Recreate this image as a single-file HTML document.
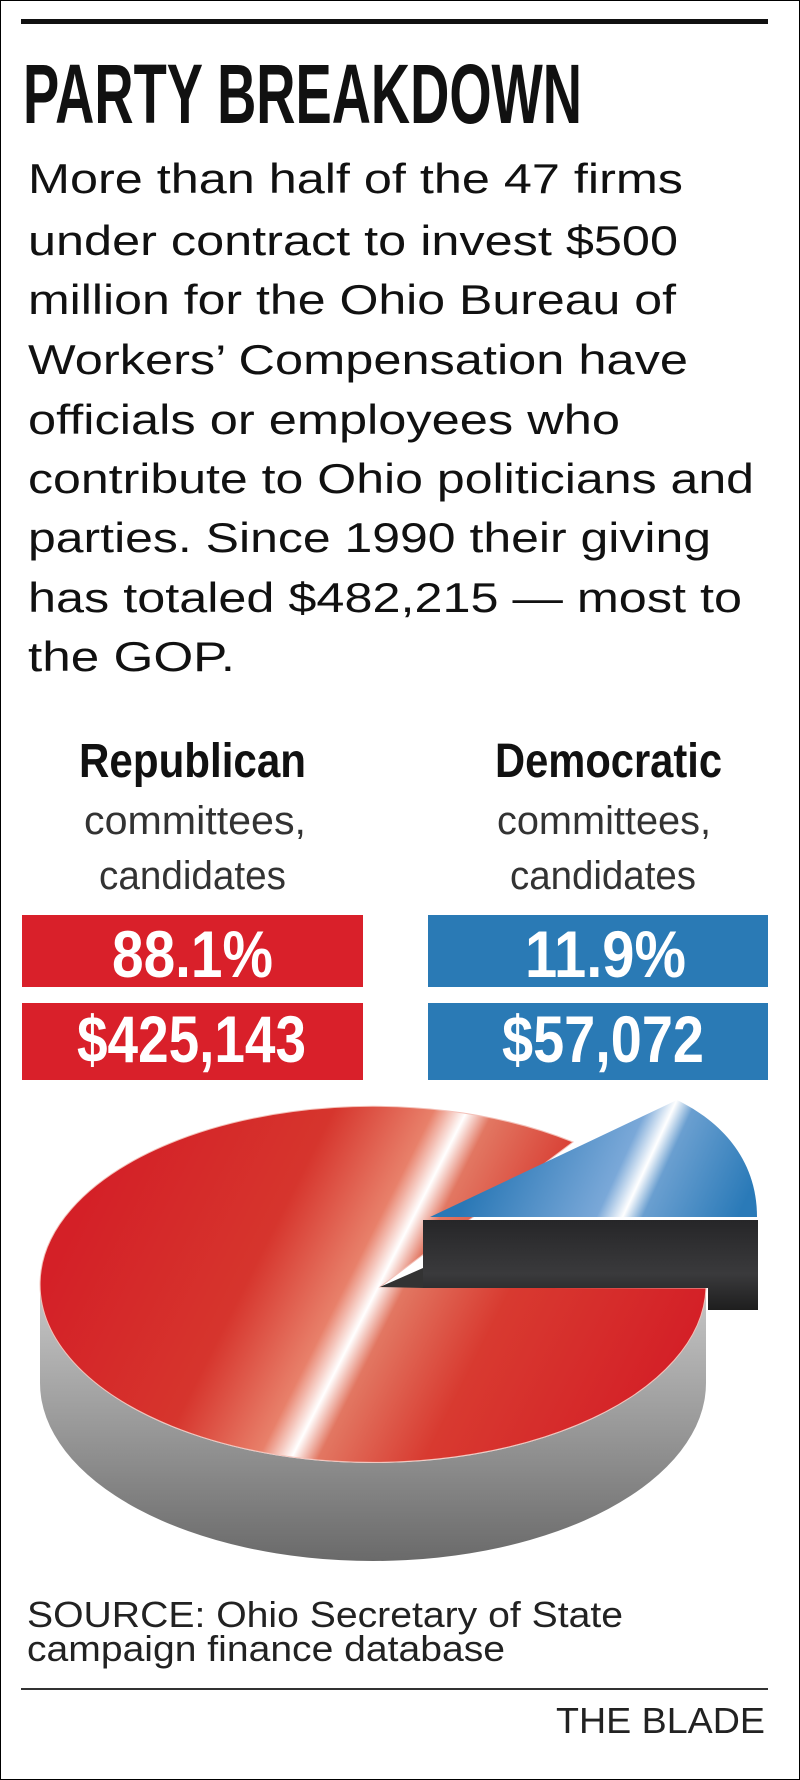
<!DOCTYPE html>
<html><head><meta charset="utf-8"><style>
html,body{margin:0;padding:0;background:#fff;}
svg{display:block;}
</style></head><body>
<svg width="800" height="1780" viewBox="0 0 800 1780" xmlns="http://www.w3.org/2000/svg">
<defs>
<linearGradient id="rg" gradientUnits="userSpaceOnUse" x1="111" y1="1152" x2="645" y2="1422">
<stop offset="0" stop-color="#d42027"/>
<stop offset="0.3" stop-color="#d6352d"/>
<stop offset="0.45" stop-color="#e8806a"/>
<stop offset="0.5" stop-color="#ffffff"/>
<stop offset="0.54" stop-color="#e27762"/>
<stop offset="0.7" stop-color="#d83a30"/>
<stop offset="1" stop-color="#d42027"/>
</linearGradient>
<linearGradient id="bg" gradientUnits="userSpaceOnUse" x1="514" y1="1095" x2="786" y2="1221">
<stop offset="0" stop-color="#2a78b6"/>
<stop offset="0.42" stop-color="#7aa8d8"/>
<stop offset="0.5" stop-color="#ffffff"/>
<stop offset="0.56" stop-color="#6a9fd0"/>
<stop offset="0.85" stop-color="#2a7ab8"/>
</linearGradient>
<linearGradient id="gg" x1="0" y1="0" x2="0" y2="1">
<stop offset="0" stop-color="#c8c8c8"/>
<stop offset="0.5" stop-color="#9a9a9a"/>
<stop offset="1" stop-color="#6a6a6a"/>
</linearGradient>
<linearGradient id="dg" x1="0" y1="0" x2="0" y2="1">
<stop offset="0" stop-color="#262628"/>
<stop offset="0.6" stop-color="#3a3a3c"/>
<stop offset="1" stop-color="#1e1e1e"/>
</linearGradient>
</defs>
<rect x="0.5" y="0.5" width="799" height="1779" fill="#fff" stroke="#000" stroke-width="1"/>
<rect x="21" y="19" width="747" height="5" fill="#111"/>
<g font-family="Liberation Sans, sans-serif" fill="#111">
<text x="23" y="123" font-size="84" font-weight="bold" textLength="559" lengthAdjust="spacingAndGlyphs">PARTY BREAKDOWN</text>
<g font-size="42">
<text x="28" y="193" textLength="655" lengthAdjust="spacingAndGlyphs">More than half of the 47 firms</text>
<text x="28" y="255" textLength="650" lengthAdjust="spacingAndGlyphs">under contract to invest $500</text>
<text x="28" y="314" textLength="648" lengthAdjust="spacingAndGlyphs">million for the Ohio Bureau of</text>
<text x="28" y="374" textLength="660" lengthAdjust="spacingAndGlyphs">Workers’ Compensation have</text>
<text x="28" y="434" textLength="592" lengthAdjust="spacingAndGlyphs">officials or employees who</text>
<text x="28" y="493" textLength="726" lengthAdjust="spacingAndGlyphs">contribute to Ohio politicians and</text>
<text x="28" y="552" textLength="683" lengthAdjust="spacingAndGlyphs">parties. Since 1990 their giving</text>
<text x="28" y="612" textLength="714" lengthAdjust="spacingAndGlyphs">has totaled $482,215 — most to</text>
<text x="28" y="671" textLength="207" lengthAdjust="spacingAndGlyphs">the GOP.</text>
</g>
<text x="79" y="777" font-size="48" font-weight="bold" textLength="227" lengthAdjust="spacingAndGlyphs">Republican</text>
<text x="495" y="777" font-size="48" font-weight="bold" textLength="227" lengthAdjust="spacingAndGlyphs">Democratic</text>
<g font-size="40" fill="#333">
<text x="84" y="834" textLength="222" lengthAdjust="spacingAndGlyphs">committees,</text>
<text x="99" y="889" textLength="187" lengthAdjust="spacingAndGlyphs">candidates</text>
<text x="497" y="834" textLength="214" lengthAdjust="spacingAndGlyphs">committees,</text>
<text x="510" y="889" textLength="186" lengthAdjust="spacingAndGlyphs">candidates</text>
</g>
</g>
<rect x="22" y="915" width="341" height="72" fill="#d9202a"/>
<rect x="22" y="1003" width="341" height="77" fill="#d9202a"/>
<rect x="428" y="915" width="340" height="72" fill="#2a7ab5"/>
<rect x="428" y="1003" width="340" height="77" fill="#2a7ab5"/>
<g font-family="Liberation Sans, sans-serif" font-weight="bold" fill="#fff" font-size="66">
<text x="112" y="977" textLength="161" lengthAdjust="spacingAndGlyphs">88.1%</text>
<text x="77" y="1062" textLength="229" lengthAdjust="spacingAndGlyphs">$425,143</text>
<text x="525" y="977" textLength="161" lengthAdjust="spacingAndGlyphs">11.9%</text>
<text x="502" y="1062" textLength="202" lengthAdjust="spacingAndGlyphs">$57,072</text>
</g>
<!-- pie side -->
<path d="M40,1285 A333,178 0 0 0 706,1285 L706,1383 A333,178 0 0 1 40,1383 Z" fill="url(#gg)"/>
<!-- red top -->
<path d="M380,1287 L573,1142 A333,178 0 1 0 706,1288 Z" fill="url(#rg)" stroke="#f3c0b8" stroke-width="1"/>
<!-- dark block -->
<path d="M423,1220 L758,1220 L758,1310 L708,1310 L708,1288 L423,1288 Z" fill="url(#dg)"/>
<path d="M380,1287 L423,1268 L423,1288 Z" fill="#333"/>
<!-- blue slice -->
<path d="M430,1217 L677,1100 C722,1122 757,1160 757,1217 Z" fill="url(#bg)"/>
<g font-family="Liberation Sans, sans-serif" fill="#222" font-size="36">
<text x="27" y="1627" textLength="596" lengthAdjust="spacingAndGlyphs">SOURCE: Ohio Secretary of State</text>
<text x="27" y="1661" textLength="478" lengthAdjust="spacingAndGlyphs">campaign finance database</text>
<text x="556" y="1733" textLength="209" lengthAdjust="spacingAndGlyphs">THE BLADE</text>
</g>
<rect x="21" y="1688" width="747" height="2" fill="#333"/>
</svg>
</body></html>
